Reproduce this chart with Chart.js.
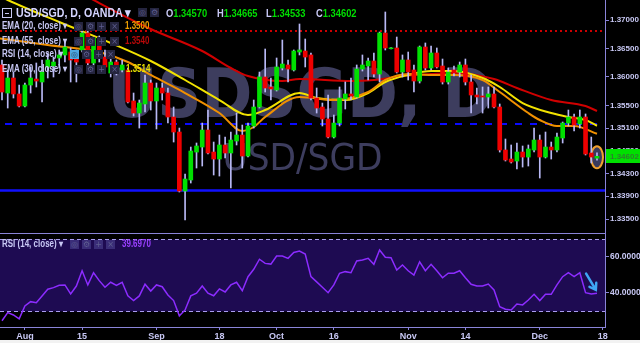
<!DOCTYPE html>
<html>
<head>
<meta charset="utf-8">
<title>USD/SGD, D, OANDA</title>
<script src="https://cdn.jsdelivr.net/npm/chart.js@4.4.1/dist/chart.umd.min.js"></script>
<style>
  body { margin: 0; background: #000; }
  #wrap { position: relative; width: 640px; height: 343px; background: #000; overflow: hidden;
          font-family: "Liberation Sans", Arial, sans-serif; }
  canvas { position: absolute; left: 0; }
  #strip { position: absolute; left: 0; top: 340px; width: 640px; height: 3px; background: #f2f2f2; }
  .t { position: absolute; white-space: nowrap; line-height: 1; color: #c8c8f4; font-weight: bold;
       font-size: 10px; transform: scaleX(0.8); transform-origin: 0 0; }
  .t b { color: #00dd00; }
  .ic { position: absolute; width: 9px; height: 9px; background: #25253f; color: #5e5e90;
        font: 8px/9px "DejaVu Sans", sans-serif; text-align: center; }
  .ic.on { background: #4fa8e0; color: #1c4060; }
  .hbox { position: absolute; left: 2px; top: 8px; width: 8px; height: 8px; border: 1px solid #c8c8f4; }
  .hbox::after { content: ""; position: absolute; left: 2px; top: 4px; width: 4px; height: 1px; background: #c8c8f4; }
</style>
</head>
<body>
<div id="wrap">
  <canvas id="priceChart" width="640" height="233" style="top:0;width:640px;height:233px"></canvas>
  <canvas id="rsiChart" width="640" height="107" style="top:233px;width:640px;height:107px"></canvas>
  <div id="strip"></div>

  <!-- header legend -->
  <div class="hbox"></div>
  <div class="t" style="left:16px;top:7px;font-size:12.5px;color:#d4d4ff;transform:scaleX(0.85)">USD/SGD, D, OANDA ▾</div>
  <div class="ic" style="left:138px;top:8px">◎</div>
  <div class="ic" style="left:150px;top:8px">⚙</div>
  <div class="t" style="left:166px;top:8px;font-size:11px;transform:scaleX(0.85)">O<b>1.34570</b></div>
  <div class="t" style="left:217px;top:8px;font-size:11px;transform:scaleX(0.85)">H<b>1.34665</b></div>
  <div class="t" style="left:266px;top:8px;font-size:11px;transform:scaleX(0.85)">L<b>1.34533</b></div>
  <div class="t" style="left:316px;top:8px;font-size:11px;transform:scaleX(0.85)">C<b>1.34602</b></div>

  <div class="t" style="left:2px;top:21px">EMA (20, close) ▾</div>
  <div class="ic" style="left:74px;top:22px">◎</div><div class="ic" style="left:86px;top:22px">⚙</div>
  <div class="ic" style="left:97px;top:22px">+</div><div class="ic" style="left:110px;top:22px">×</div>
  <div class="t" style="left:125px;top:21px;color:#f0a000">1.3500</div>

  <div class="t" style="left:2px;top:36px">EMA (55, close) ▾</div>
  <div class="ic" style="left:74px;top:37px">◎</div><div class="ic" style="left:86px;top:37px">⚙</div>
  <div class="ic" style="left:97px;top:37px">+</div><div class="ic" style="left:110px;top:37px">×</div>
  <div class="t" style="left:125px;top:36px;color:#b80808">1.3540</div>

  <div class="t" style="left:2px;top:49px">RSI (14, close) ▾</div>
  <div class="ic on" style="left:70px;top:50px">◎</div><div class="ic" style="left:82px;top:50px">⚙</div>
  <div class="ic" style="left:94px;top:50px">+</div><div class="ic" style="left:106px;top:50px">×</div>

  <div class="t" style="left:2px;top:64px">EMA (30, close) ▾</div>
  <div class="ic" style="left:74px;top:65px">◎</div><div class="ic" style="left:86px;top:65px">⚙</div>
  <div class="ic" style="left:97px;top:65px">+</div><div class="ic" style="left:110px;top:65px">×</div>
  <div class="t" style="left:126px;top:64px;color:#e8e000">1.3514</div>

  <!-- rsi legend -->
  <div class="t" style="left:2px;top:239px">RSI (14, close) ▾</div>
  <div class="ic" style="left:70px;top:240px;background:#3a2d78">◎</div><div class="ic" style="left:82px;top:240px;background:#3a2d78">⚙</div>
  <div class="ic" style="left:94px;top:240px;background:#3a2d78">+</div><div class="ic" style="left:106px;top:240px;background:#3a2d78">×</div>
  <div class="t" style="left:122px;top:239px;color:#9a40ff">39.6970</div>
</div>

<script>
// daily bars, index 0 = late July 2017, last index = mid December 2017
const openPx = [1.36209, 1.35716, 1.35980, 1.35699, 1.35487, 1.35857, 1.35962, 1.35910, 1.36174, 1.36191,
  1.36332, 1.36385, 1.36437, 1.36385, 1.36473, 1.36772, 1.36244, 1.36684, 1.36349, 1.36068,
  1.36261, 1.36121, 1.36121, 1.35576, 1.35364, 1.35523, 1.35892, 1.35576, 1.35804, 1.35716,
  1.35294, 1.35030, 1.33992, 1.34186, 1.34678, 1.34766, 1.35065, 1.34678, 1.34555, 1.34802,
  1.34661, 1.34872, 1.34977, 1.34608, 1.35136, 1.35470, 1.35998, 1.35822, 1.35769, 1.36156,
  1.36209, 1.36121, 1.36437, 1.36455, 1.36385, 1.35628, 1.35470, 1.35259, 1.34942, 1.35188,
  1.35611, 1.35699, 1.35646, 1.36138, 1.36191, 1.36279, 1.36050, 1.36772, 1.36495, 1.36508,
  1.36085, 1.36297, 1.36121, 1.35927, 1.36525, 1.36156, 1.36420, 1.36191, 1.35910, 1.36121,
  1.36085, 1.36209, 1.35910, 1.35681, 1.35663, 1.35646, 1.35699, 1.35470, 1.34714, 1.34555,
  1.34520, 1.34678, 1.34590, 1.34714, 1.34889, 1.34590, 1.34766, 1.34714, 1.34925, 1.35188,
  1.35294, 1.35171, 1.35294, 1.34661, 1.34570];
const highPx = [1.36297, 1.36121, 1.36085, 1.35857, 1.35892, 1.36174, 1.36244, 1.36297, 1.36420, 1.36349,
  1.36473, 1.36613, 1.36508, 1.36473, 1.36877, 1.36824, 1.36701, 1.36719, 1.36473, 1.36332,
  1.36297, 1.36297, 1.36156, 1.35716, 1.35593, 1.36033, 1.35945, 1.35892, 1.35892, 1.35804,
  1.35470, 1.35100, 1.34291, 1.34766, 1.34837, 1.35188, 1.35417, 1.34854, 1.34977, 1.34942,
  1.35030, 1.35364, 1.35153, 1.35188, 1.35593, 1.36085, 1.36490, 1.35980, 1.36332, 1.36648,
  1.36297, 1.36473, 1.36930, 1.36666, 1.36420, 1.35804, 1.35540, 1.35681, 1.35329, 1.35822,
  1.35910, 1.35980, 1.36209, 1.36385, 1.36332, 1.36420, 1.36789, 1.37141, 1.36515, 1.36701,
  1.36385, 1.36437, 1.36209, 1.36543, 1.36596, 1.36543, 1.36508, 1.36314, 1.36156, 1.36191,
  1.36261, 1.36314, 1.36033, 1.35804, 1.35822, 1.35822, 1.35822, 1.35523, 1.34907, 1.34802,
  1.34837, 1.34784, 1.34802, 1.35100, 1.34977, 1.35030, 1.34854, 1.35012, 1.35206, 1.35417,
  1.35347, 1.35417, 1.35347, 1.34942, 1.34665];
const lowPx = [1.35593, 1.35452, 1.35628, 1.35470, 1.35470, 1.35716, 1.35822, 1.35558, 1.35980, 1.35998,
  1.36156, 1.36261, 1.35910, 1.35910, 1.36437, 1.36209, 1.36209, 1.36261, 1.36085, 1.35998,
  1.36033, 1.36085, 1.35540, 1.35312, 1.35100, 1.35382, 1.35417, 1.35083, 1.35593, 1.35188,
  1.34854, 1.33975, 1.33482, 1.34133, 1.34397, 1.34432, 1.34643, 1.34274, 1.34256, 1.34573,
  1.34045, 1.34802, 1.34397, 1.34590, 1.35100, 1.35452, 1.35734, 1.35593, 1.35751, 1.36121,
  1.35910, 1.36103, 1.36385, 1.36174, 1.35593, 1.35364, 1.35136, 1.34925, 1.34925, 1.35136,
  1.35435, 1.35593, 1.35628, 1.36103, 1.35945, 1.35998, 1.35910, 1.36473, 1.36490, 1.36068,
  1.35998, 1.35945, 1.35734, 1.35892, 1.36121, 1.36121, 1.36156, 1.35874, 1.35874, 1.36015,
  1.35998, 1.35857, 1.35364, 1.35523, 1.35364, 1.35452, 1.35452, 1.34678, 1.34520, 1.34485,
  1.34379, 1.34414, 1.34432, 1.34678, 1.34221, 1.34573, 1.34555, 1.34678, 1.34837, 1.35136,
  1.35048, 1.35100, 1.34626, 1.34485, 1.34533];
const closePx = [1.35734, 1.35980, 1.35699, 1.35487, 1.35857, 1.35980, 1.35927, 1.36085, 1.36297, 1.36261,
  1.36385, 1.36525, 1.36297, 1.36261, 1.36772, 1.36244, 1.36684, 1.36473, 1.36174, 1.36261,
  1.36085, 1.36209, 1.35558, 1.35364, 1.35540, 1.35892, 1.35576, 1.35804, 1.35716, 1.35294,
  1.35030, 1.33992, 1.34203, 1.34696, 1.34784, 1.35065, 1.34661, 1.34555, 1.34802, 1.34661,
  1.34889, 1.34977, 1.34608, 1.35136, 1.35470, 1.35998, 1.35804, 1.35787, 1.36174, 1.36226,
  1.36138, 1.36455, 1.36473, 1.36349, 1.35628, 1.35452, 1.35259, 1.34942, 1.35188, 1.35628,
  1.35699, 1.35663, 1.36138, 1.36209, 1.36279, 1.36050, 1.36772, 1.36508, 1.36510, 1.36085,
  1.36297, 1.36085, 1.35927, 1.36525, 1.36156, 1.36420, 1.36174, 1.35910, 1.36085, 1.36068,
  1.36209, 1.35910, 1.35681, 1.35646, 1.35646, 1.35699, 1.35470, 1.34714, 1.34538, 1.34502,
  1.34678, 1.34590, 1.34731, 1.34889, 1.34590, 1.34766, 1.34714, 1.34942, 1.35188, 1.35294,
  1.35153, 1.35294, 1.34643, 1.34590, 1.34602];

// moving averages at a few bars
const ema20Idx = [-1, 8, 17, 22, 26, 32, 38, 42, 44, 46, 52, 58, 64, 67, 71, 75, 79, 84, 87, 92, 94, 97, 100, 104];
const ema20Val = [1.36684, 1.36560, 1.36437, 1.36261, 1.36033, 1.35716, 1.35364, 1.35048, 1.35118, 1.35294,
  1.35646, 1.35593, 1.35734, 1.35945, 1.36050, 1.36033, 1.36033, 1.35945, 1.35734, 1.35364,
  1.35241, 1.35136, 1.35136, 1.35000];
const ema30Idx = [-1, 1, 10, 19, 26, 32, 38, 43, 46, 52, 55, 60, 64, 67, 71, 75, 79, 84, 87, 91, 96, 99, 102, 104];
const ema30Val = [1.37450, 1.37352, 1.36965, 1.36596, 1.36279, 1.35945, 1.35593, 1.35329, 1.35417, 1.35716,
  1.35628, 1.35593, 1.35716, 1.35910, 1.36033, 1.36103, 1.36103, 1.35980, 1.35822, 1.35540,
  1.35364, 1.35294, 1.35241, 1.35140];
const ema55Idx = [8, 17, 26, 35, 40, 43, 49, 52, 61, 65, 70, 75, 79, 86, 90, 96, 102, 104];
const ema55Val = [1.37792, 1.37299, 1.36842, 1.36455, 1.36156, 1.36015, 1.35927, 1.35962, 1.35927, 1.35945,
  1.36015, 1.36050, 1.36068, 1.35962, 1.35804, 1.35593, 1.35487, 1.35400];

const rsiVal = [24.4, 28.9, 27.6, 25.4, 32.6, 35.0, 34.4, 38.2, 41.9, 42.8,
  44.1, 44.3, 39.3, 43.7, 52.2, 44.3, 51.1, 46.7, 43.0, 45.8,
  44.1, 45.8, 38.2, 35.6, 38.2, 44.7, 40.9, 44.3, 43.3, 38.7,
  35.6, 27.1, 30.4, 38.2, 39.7, 43.7, 39.7, 38.3, 42.1, 40.4,
  44.3, 45.8, 41.1, 48.9, 53.0, 58.6, 56.3, 55.9, 60.4, 60.4,
  59.1, 62.4, 63.2, 61.5, 48.9, 46.0, 43.0, 40.0, 44.3, 50.8,
  51.7, 51.1, 57.6, 58.2, 59.1, 55.8, 63.7, 59.7, 59.4, 52.6,
  55.4, 52.2, 49.8, 57.2, 52.2, 55.8, 52.2, 48.3, 50.8, 50.8,
  52.2, 48.3, 44.7, 43.7, 43.7, 44.8, 41.5, 32.2, 30.8, 30.4,
  33.7, 33.2, 35.9, 39.1, 35.6, 39.1, 39.1, 44.3, 48.9, 51.1,
  48.9, 51.1, 40.0, 39.3, 39.697];

const priceTicks = [1.37, 1.365, 1.36, 1.355, 1.351, 1.347, 1.343, 1.339, 1.335];
const rsiTicks = [40, 60];
const rsiBand = [30, 70];
const dateTickIdx = [4, 14, 27, 38, 48, 58, 71, 81, 94, 105];
const dateTickText = ['Aug', '15', 'Sep', '18', 'Oct', '16', 'Nov', '14', 'Dec', '18'];

// drawn levels: red dotted, blue dashed, blue solid
const levelPrices = [1.36807, 1.35171, 1.34019];
const lastClose = 1.34602;
const arrowFrom = [102.1, 50.6];
const arrowTo = [103.8, 41.6];

const axisColor = '#8a84d8';
const labelColor = '#c8c8f4';
const upColor = '#00e000';
const downColor = '#ee0000';

Chart.defaults.animation = false;
Chart.defaults.font.family = '"Liberation Sans", Arial, sans-serif';

function fitText(ctx, text, font, cx, baseline, width) {
    ctx.font = font;
    const w = ctx.measureText(text).width;
    ctx.save();
    ctx.translate(cx, baseline);
    ctx.scale(width / w, 1);
    ctx.textAlign = 'center';
    ctx.fillText(text, 0, 0);
    ctx.restore();
}

const priceDecor = {
    id: 'priceDecor',
    beforeDatasetsDraw(chart) {
        const { ctx, chartArea: a, scales: { x, y } } = chart;
        ctx.save();
        // watermark
        ctx.fillStyle = '#3d3d5e';
        fitText(ctx, 'USDSGD, D', 'bold 67px "DejaVu Sans"', 300.5, 117, 386);
        fitText(ctx, 'USD/SGD', '37px "DejaVu Sans"', 302.5, 170, 160);

        // horizontal levels
        const yRed = Math.round(y.getPixelForValue(levelPrices[0]));
        ctx.strokeStyle = '#cc0000';
        ctx.lineWidth = 2;
        ctx.setLineDash([2, 3]);
        ctx.beginPath(); ctx.moveTo(a.left, yRed); ctx.lineTo(a.right, yRed); ctx.stroke();

        const yDash = Math.round(y.getPixelForValue(levelPrices[1]));
        ctx.strokeStyle = '#0a0aff';
        ctx.setLineDash([7, 8]);
        ctx.beginPath(); ctx.moveTo(a.left + 5, yDash); ctx.lineTo(a.right, yDash); ctx.stroke();

        const ySolid = Math.round(y.getPixelForValue(levelPrices[2])) + 0.5;
        ctx.setLineDash([]);
        ctx.lineWidth = 2.5;
        ctx.strokeStyle = '#1010ff';
        ctx.beginPath(); ctx.moveTo(a.left, ySolid); ctx.lineTo(a.right, ySolid); ctx.stroke();

        // highlight round the last bar
        const last = closePx.length - 1;
        const ex = x.getPixelForValue(last);
        const ey = y.getPixelForValue((openPx[last] + closePx[last]) / 2);
        ctx.beginPath();
        ctx.ellipse(ex, ey, 6, 11, 0, 0, Math.PI * 2);
        ctx.fillStyle = '#3a3a5c';
        ctx.fill();
        ctx.lineWidth = 2;
        ctx.strokeStyle = '#f0a030';
        ctx.stroke();
        ctx.restore();
    },
    afterDraw(chart) {
        const { ctx, scales: { y } } = chart;
        const py = y.getPixelForValue(lastClose);
        ctx.save();
        ctx.fillStyle = upColor;
        ctx.fillRect(606, Math.round(py) - 7, 34, 14);
        ctx.fillStyle = '#2e7d2e';
        ctx.font = 'bold 8px "Liberation Sans"';
        ctx.textAlign = 'left';
        ctx.textBaseline = 'middle';
        ctx.fillText(lastClose.toFixed(5), 610, Math.round(py) + 0.5);
        ctx.restore();
    }
};

const rsiDecor = {
    id: 'rsiDecor',
    beforeDatasetsDraw(chart) {
        const { ctx, chartArea: a, scales: { y } } = chart;
        const yTop = Math.round(y.getPixelForValue(rsiBand[1])) + 0.5;
        const yBot = Math.round(y.getPixelForValue(rsiBand[0])) + 0.5;
        ctx.save();
        ctx.fillStyle = '#1e0b52';
        ctx.fillRect(a.left, yTop, a.right - a.left, yBot - yTop);
        ctx.strokeStyle = '#a99cf0';
        ctx.lineWidth = 1;
        ctx.setLineDash([4, 3]);
        ctx.beginPath();
        ctx.moveTo(a.left, yTop); ctx.lineTo(a.right, yTop);
        ctx.moveTo(a.left, yBot); ctx.lineTo(a.right, yBot);
        ctx.stroke();
        // pane separator
        ctx.setLineDash([]);
        ctx.strokeStyle = axisColor;
        ctx.beginPath(); ctx.moveTo(0, 0.5); ctx.lineTo(a.right, 0.5); ctx.stroke();
        ctx.restore();
    },
    afterDatasetsDraw(chart) {
        const { ctx, scales: { x, y } } = chart;
        const x1 = x.getPixelForValue(arrowFrom[0]), y1 = y.getPixelForValue(arrowFrom[1]);
        const x2 = x.getPixelForValue(arrowTo[0]), y2 = y.getPixelForValue(arrowTo[1]);
        const ang = Math.atan2(y2 - y1, x2 - x1);
        ctx.save();
        ctx.strokeStyle = '#3fa6f5';
        ctx.lineWidth = 2.5;
        ctx.lineCap = 'round';
        ctx.beginPath();
        ctx.moveTo(x1, y1); ctx.lineTo(x2, y2);
        ctx.moveTo(x2 - 7 * Math.cos(ang - 0.6), y2 - 7 * Math.sin(ang - 0.6));
        ctx.lineTo(x2, y2);
        ctx.lineTo(x2 - 7 * Math.cos(ang + 0.6), y2 - 7 * Math.sin(ang + 0.6));
        ctx.stroke();
        ctx.restore();
    }
};

const wickData = highPx.map((h, i) => ({ x: i, y: [lowPx[i], h] }));
const bodyData = openPx.map((o, i) => ({ x: i, y: [Math.min(o, closePx[i]), Math.max(o, closePx[i])] }));
const bodyColors = openPx.map((o, i) => closePx[i] >= o ? upColor : downColor);

function emaLine(idx, val, color, order) {
    return {
        type: 'line',
        data: idx.map((v, i) => ({ x: v, y: val[i] })),
        borderColor: color,
        borderWidth: 2,
        pointRadius: 0,
        cubicInterpolationMode: 'monotone',
        order: order
    };
}

const xMin = -0.35, xMax = 105.4;

new Chart(document.getElementById('priceChart'), {
    type: 'bar',
    data: {
        datasets: [
            { data: wickData, backgroundColor: '#b8b8f4', barThickness: 1, grouped: false, order: 1 },
            { data: bodyData, backgroundColor: bodyColors, barThickness: 4, grouped: false, order: 0 },
            emaLine(ema55Idx, ema55Val, '#d00000', 4),
            emaLine(ema30Idx, ema30Val, '#f2e200', 3),
            emaLine(ema20Idx, ema20Val, '#f09000', 2)
        ]
    },
    options: {
        responsive: false,
        devicePixelRatio: 1,
        layout: { padding: 0 },
        plugins: { legend: { display: false }, tooltip: { enabled: false } },
        scales: {
            x: { type: 'linear', min: xMin, max: xMax, offset: false, display: false },
            y: {
                position: 'right',
                min: 1.33254,
                max: 1.37352,
                afterBuildTicks: s => { s.ticks = priceTicks.map(v => ({ value: v })); },
                afterFit: s => { s.width = 35; s.paddingTop = 0; s.paddingBottom = 0; },
                ticks: {
                    color: labelColor,
                    padding: 1,
                    font: { size: 8, weight: 'bold' },
                    callback: v => v.toFixed(5)
                },
                grid: { drawOnChartArea: false, tickLength: 4, color: axisColor },
                border: { color: axisColor }
            }
        }
    },
    plugins: [priceDecor]
});

new Chart(document.getElementById('rsiChart'), {
    type: 'line',
    data: {
        datasets: [{
            data: rsiVal.map((v, i) => ({ x: i, y: v })),
            borderColor: '#8c2cff',
            borderWidth: 1.5,
            pointRadius: 0,
            tension: 0
        }]
    },
    options: {
        responsive: false,
        devicePixelRatio: 1,
        layout: { padding: 0 },
        plugins: { legend: { display: false }, tooltip: { enabled: false } },
        scales: {
            x: {
                type: 'linear', min: xMin, max: xMax, offset: false,
                afterBuildTicks: s => { s.ticks = dateTickIdx.map(v => ({ value: v })); },
                afterFit: s => { s.height = 13; s.paddingLeft = 0; s.paddingRight = 0; },
                ticks: {
                    color: labelColor,
                    padding: 1,
                    maxRotation: 0,
                    autoSkip: false,
                    font: { size: 9, weight: 'bold' },
                    callback: v => dateTickText[dateTickIdx.indexOf(v)]
                },
                grid: { drawOnChartArea: false, tickLength: 3, color: axisColor },
                border: { color: axisColor }
            },
            y: {
                position: 'right',
                min: 20.9,
                max: 73.2,
                afterBuildTicks: s => { s.ticks = rsiTicks.map(v => ({ value: v })); },
                afterFit: s => { s.width = 35; s.paddingTop = 0; s.paddingBottom = 0; },
                ticks: {
                    color: labelColor,
                    padding: 1,
                    font: { size: 8.5, weight: 'bold' },
                    callback: v => v.toFixed(4)
                },
                grid: { drawOnChartArea: false, tickLength: 4, color: axisColor },
                border: { color: axisColor }
            }
        }
    },
    plugins: [rsiDecor]
});
</script>
</body>
</html>
